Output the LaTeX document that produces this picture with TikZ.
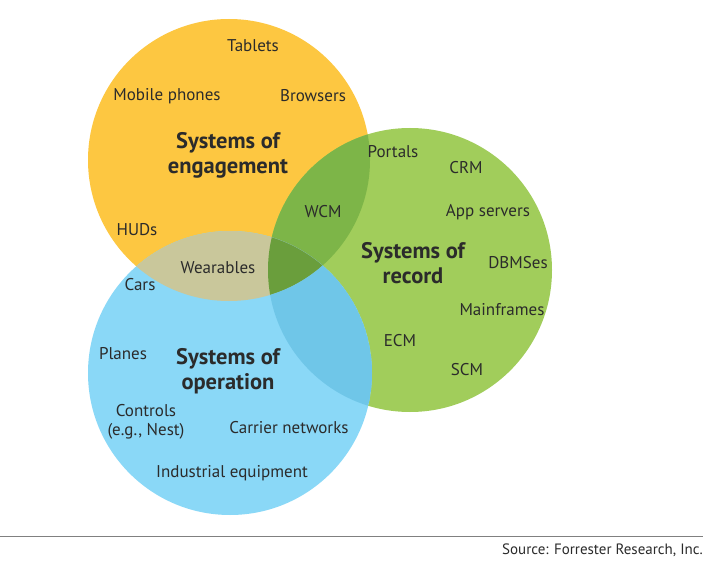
\documentclass[tikz,border=0pt]{standalone}
\usepackage{fontspec}
\setmainfont{PT Sans}
\definecolor{engage}{HTML}{FDC741}
\definecolor{record}{HTML}{A1CD5B}
\definecolor{oper}{HTML}{8AD8F7}
\definecolor{engrec}{HTML}{7DB548}
\definecolor{engop}{HTML}{C9C79B}
\definecolor{recop}{HTML}{6FC6E8}
\definecolor{allthree}{HTML}{6A9E3C}
\definecolor{txt}{HTML}{2B2B2B}
\tikzset{
  item/.style={text=txt,font=\fontsize{17}{19}\selectfont,inner sep=0pt},
  title/.style={text=txt,font=\fontsize{22.5}{25}\selectfont\bfseries,align=center,inner sep=0pt}
}
\begin{document}
\begin{tikzpicture}[x=1pt,y=-1pt]
\useasboundingbox (0,0) rectangle (718,567);
\fill[white] (0,0) rectangle (718,567);
\fill[engage] (229,160) circle (141);
\fill[record] (410,270) circle (142);
\fill[oper] (230,373) circle (142);
\begin{scope}
\clip (229,160) circle (141);
\fill[engrec] (410,270) circle (142);
\fill[engop] (230,373) circle (142);
\clip (410,270) circle (142);
\fill[allthree] (230,373) circle (142);
\end{scope}
\begin{scope}
\clip (410,270) circle (142);
\clip (230,373) circle (142);
\fill[recop,even odd rule] (230,373) circle (142) (229,160) circle (141);
\end{scope}
\node[item] (tablets) at (253,46) {Tablets};
\node[item] (phones) at (167,96) {Mobile phones};
\node[item] (browsers) at (313,96) {Browsers};
\node[title] (engagement) at (228,155) {Systems of\\engagement};
\node[item] (huds) at (137,230) {HUDs};
\node[item] (wearables) at (218,268) {Wearables};
\node[item] (cars) at (140,285) {Cars};
\node[item] (wcm) at (323,212) {WCM};
\node[item] (portals) at (393,152) {Portals};
\node[item] (crm) at (466,168) {CRM};
\node[item] (appservers) at (488,212) {App servers};
\node[title] (recordsys) at (413,263) {Systems of\\record};
\node[item] (dbmses) at (518,263) {DBMSes};
\node[item] (mainframes) at (502,310) {Mainframes};
\node[item] (ecm) at (400,341) {ECM};
\node[item] (scm) at (467,370) {SCM};
\node[item] (planes) at (123,354) {Planes};
\node[title] (operation) at (228,371) {Systems of\\operation};
\node[item,align=center] (controls) at (146,422) {Controls\\(e.g., Nest)};
\node[item] (carrier) at (289,428) {Carrier networks};
\node[item] (industrial) at (232,473) {Industrial equipment};
\coordinate (rulel) at (0,536);
\coordinate (ruler) at (703,536);
\draw[gray,line width=1pt] (rulel) -- (ruler);
\node[item,anchor=east,font=\fontsize{15}{17}\selectfont] (source) at (703,550) {Source: Forrester Research, Inc.};
\end{tikzpicture}
\end{document}
